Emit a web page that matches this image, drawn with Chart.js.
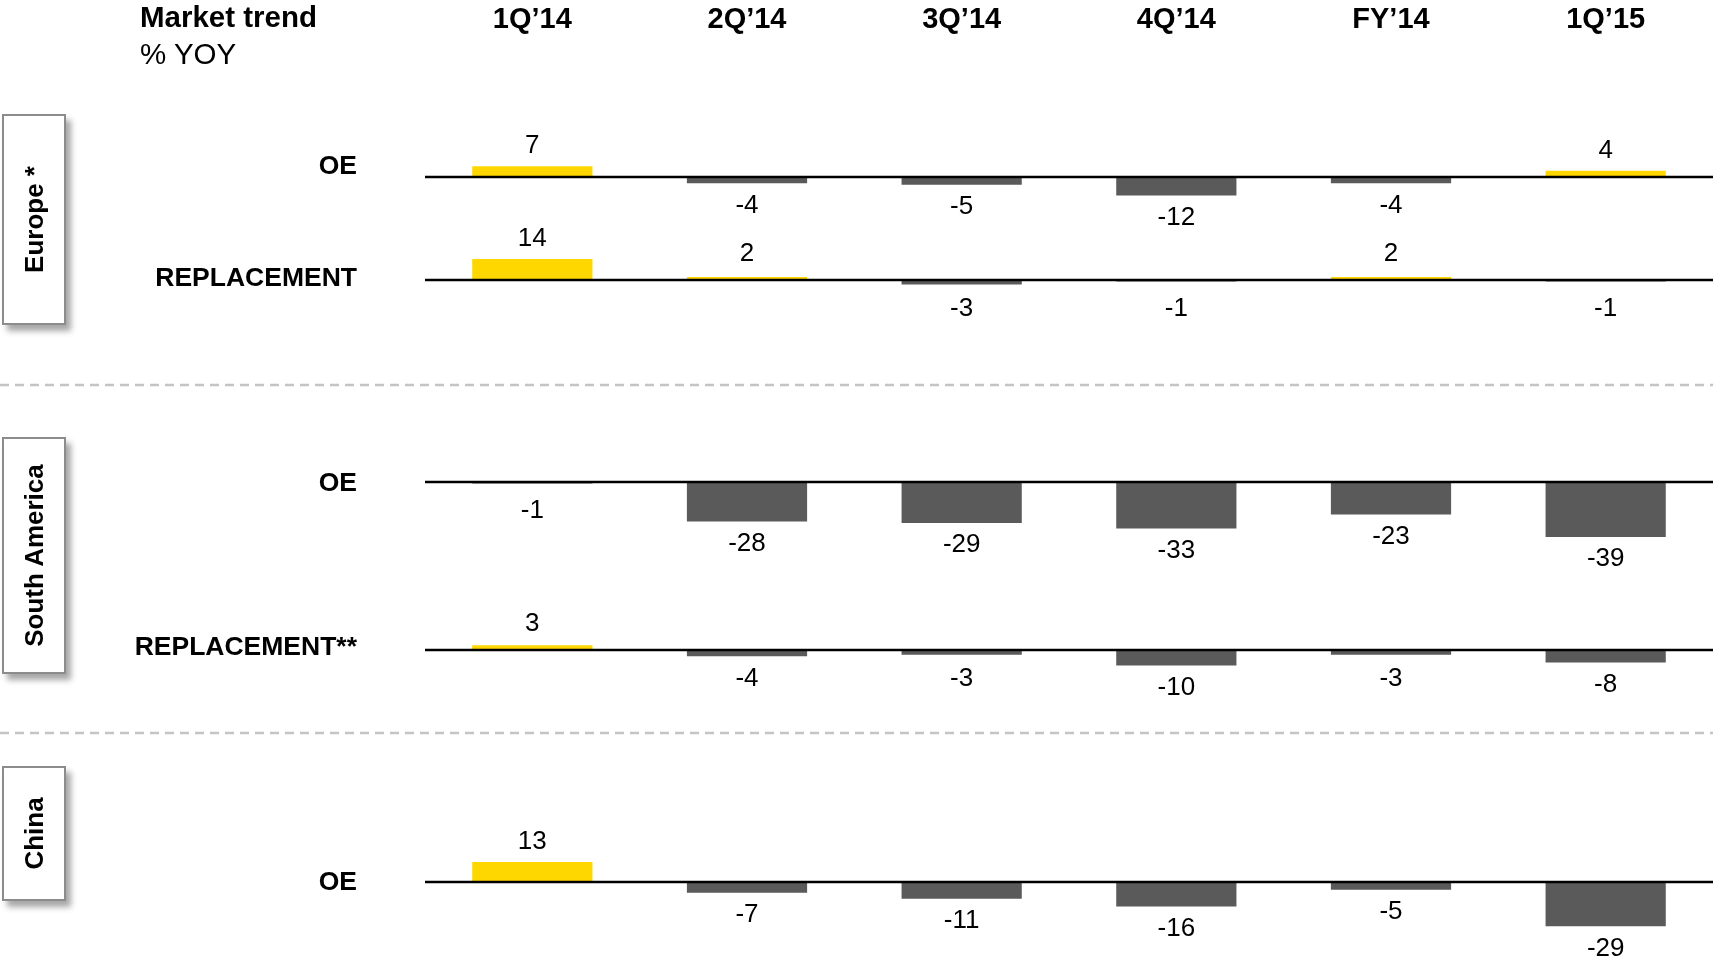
<!DOCTYPE html>
<html lang="en">
<head>
  <meta charset="UTF-8">
  <title>Market trend % YOY</title>
  <script src="https://cdn.jsdelivr.net/npm/chart.js@4.4.0/dist/chart.umd.min.js"></script>
  <style>
    body { margin: 0; background: #fff; overflow: hidden; font-family: "Liberation Sans", Arial, sans-serif; color: #000; }
    #wrap { position: relative; width: 1713px; height: 962px; }
    #chart { position: absolute; left: 0; top: 0; }
    .txt { position: absolute; line-height: 1; white-space: nowrap; transform: translateY(-50%); }
    .title { left: 140px; font-size: 29.5px; }
    .row { right: 1356px; font-size: 26.5px; font-weight: bold; text-align: right; }
    .region { position: absolute; left: 2px; width: 64px; box-sizing: border-box; border: 2px solid #8c8c8c; background: #fff;
              box-shadow: 5px 6px 6px rgba(0, 0, 0, 0.35); display: flex; align-items: center; justify-content: center; }
    .region span { transform: rotate(-90deg); white-space: nowrap; font-size: 26px; font-weight: bold; }
  </style>
</head>
<body>
<div id="wrap">
  <canvas id="chart" width="1713" height="962"></canvas>
  <div class="txt title" style="top:17px; font-weight:bold;">Market trend</div>
  <div class="txt title" style="top:54px;">% YOY</div>
</div>

<script>
  /* Quarters along the top. */
  const quarters = ["1Q’14", "2Q’14", "3Q’14", "4Q’14", "FY’14", "1Q’15"]

  /* % change year over year, one array per row. */
  const europeOE = [7, -4, -5, -12, -4, 4]
  const europeRepl = [14, 2, -3, -1, 2, -1]
  const southAmericaOE = [-1, -28, -29, -33, -23, -39]
  const southAmericaRepl = [3, -4, -3, -10, -3, -8]
  const chinaOE = [13, -7, -11, -16, -5, -29]

  const rowNames = ["OE", "REPLACEMENT", "OE", "REPLACEMENT**", "OE"]
  const regionNames = ["Europe *", "South America", "China"]

  const rows = [europeOE, europeRepl, southAmericaOE, southAmericaRepl, chinaOE]

  /* Layout: zero line of each row, label rows, region boxes. */
  const rowBase = [177, 280, 482, 650, 882]
  const rowScale = [1.55, 1.5, 1.41, 1.55, 1.53] // px per point, per row
  const rowLabelY = [165, 277, 482, 646, 881]
  const regionBox = [[114, 211], [437, 237], [766, 135]]
  const separatorY = [385, 733]
  const plotTop = 40
  const plotBottom = 962

  const YELLOW = "#ffd700"
  const GRAY = "#5a5a5a"
  const FONT = '"Liberation Sans", Arial, sans-serif'

  /* Row labels and region boxes. */
  const wrap = document.getElementById("wrap")
  rowNames.forEach((name, i) => {
    const d = document.createElement("div")
    d.className = "txt row"
    d.style.top = rowLabelY[i] + "px"
    d.textContent = name
    wrap.appendChild(d)
  })
  regionNames.forEach((name, i) => {
    const d = document.createElement("div")
    d.className = "region"
    d.style.top = regionBox[i][0] + "px"
    d.style.height = regionBox[i][1] + "px"
    const s = document.createElement("span")
    s.textContent = name
    d.appendChild(s)
    wrap.appendChild(d)
  })

  /* One hidden y axis per row, zero placed on the row's line. */
  const scales = {
    x: {
      position: "top",
      grid: { display: false, drawTicks: false },
      border: { display: false },
      ticks: { color: "#000", font: { family: FONT, size: 29, weight: "bold" }, padding: 3, maxRotation: 0, autoSkip: false },
      afterFit: s => { s.height = plotTop }
    }
  }
  rows.forEach((r, i) => {
    scales["y" + i] = {
      type: "linear",
      display: false,
      min: -(plotBottom - rowBase[i]) / rowScale[i],
      max: (rowBase[i] - plotTop) / rowScale[i]
    }
  })

  /* Zero lines, value labels and dashed separators. */
  const decor = {
    id: "decor",
    afterDatasetsDraw(chart) {
      const ctx = chart.ctx
      const area = chart.chartArea
      ctx.save()

      ctx.strokeStyle = "#c4c4c4"
      ctx.lineWidth = 2.5
      ctx.setLineDash([9, 6])
      separatorY.forEach(y => {
        ctx.beginPath()
        ctx.moveTo(0, y)
        ctx.lineTo(chart.width, y)
        ctx.stroke()
      })
      ctx.setLineDash([])

      ctx.strokeStyle = "#000"
      ctx.lineWidth = 2.5
      rows.forEach((r, i) => {
        const y = chart.scales["y" + i].getPixelForValue(0)
        ctx.beginPath()
        ctx.moveTo(area.left, y)
        ctx.lineTo(area.right, y)
        ctx.stroke()
      })

      ctx.font = "26px " + FONT
      ctx.fillStyle = "#000"
      ctx.textAlign = "center"
      ctx.textBaseline = "middle"
      chart.data.datasets.forEach((ds, i) => {
        const zero = chart.scales["y" + i].getPixelForValue(0)
        chart.getDatasetMeta(i).data.forEach((bar, j) => {
          const v = ds.data[j]
          const y = v >= 0 ? Math.min(bar.y - 20, zero - 26) : Math.max(bar.y + 22, zero + 29)
          ctx.fillText(String(v), bar.x, y)
        })
      })
      ctx.restore()
    }
  }

  const ctx = document.getElementById("chart").getContext("2d")
  const myChart = new Chart(ctx, {
    type: "bar",
    data: {
      labels: quarters,
      datasets: rows.map((r, i) => ({
        label: rowNames[i],
        data: r,
        yAxisID: "y" + i,
        backgroundColor: r.map(v => v >= 0 ? YELLOW : GRAY),
        borderWidth: 0,
        grouped: false,
        categoryPercentage: 1,
        barPercentage: 0.56
      }))
    },
    options: {
      responsive: false,
      devicePixelRatio: 1,
      animation: false,
      layout: { padding: { left: 425, right: 0, top: 0, bottom: 0 } },
      plugins: { legend: { display: false }, tooltip: { enabled: false } },
      scales: scales
    },
    plugins: [decor]
  })
</script>
</body>
</html>
